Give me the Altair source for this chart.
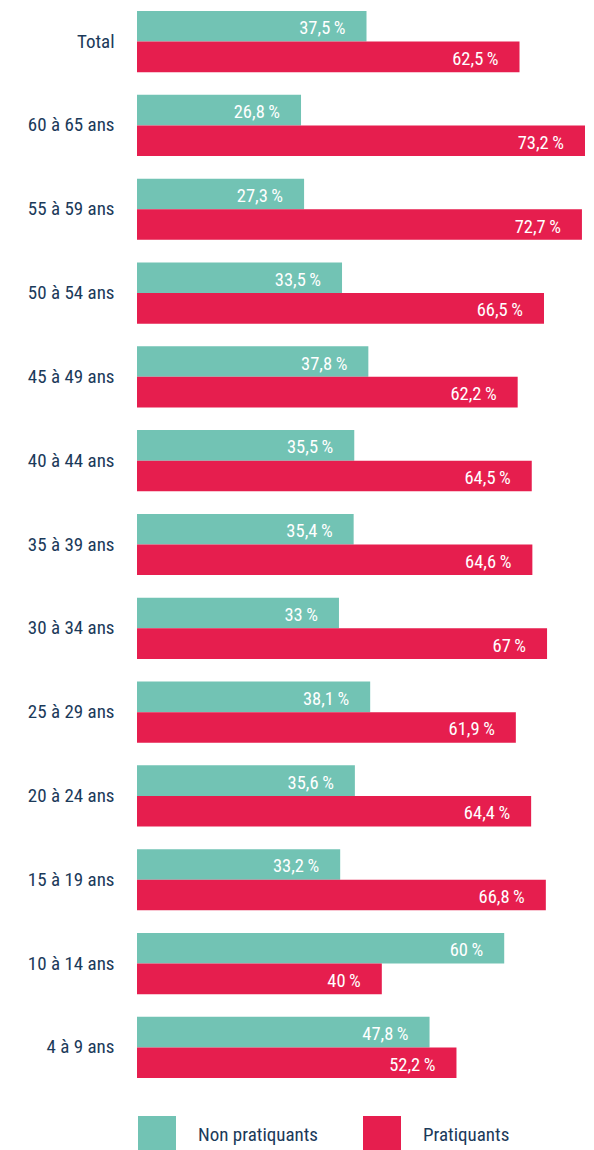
import altair as alt
import pandas as pd

categories = ["Total", "60 à 65 ans", "55 à 59 ans", "50 à 54 ans", "45 à 49 ans",
              "40 à 44 ans", "35 à 39 ans", "30 à 34 ans", "25 à 29 ans",
              "20 à 24 ans", "15 à 19 ans", "10 à 14 ans", "4 à 9 ans"]
non_pratiquants = [37.5, 26.8, 27.3, 33.5, 37.8, 35.5, 35.4, 33, 38.1, 35.6, 33.2, 60, 47.8]
pratiquants = [62.5, 73.2, 72.7, 66.5, 62.2, 64.5, 64.6, 67, 61.9, 64.4, 66.8, 40, 52.2]
series = ["Non pratiquants", "Pratiquants"]
colors = ["#72c3b4", "#e61e4e"]

rows = []
for c, a, b in zip(categories, non_pratiquants, pratiquants):
    for s, v in zip(series, [a, b]):
        lab = (f"{v:g}").replace(".", ",") + "\u2009%"
        rows.append({"cat": c, "serie": s, "val": v, "lab": lab})
df = pd.DataFrame(rows)

FONT = "Roboto Condensed, Liberation Sans Narrow, DejaVu Sans Condensed, Roboto, sans-serif"

base = alt.Chart(df).encode(
    y=alt.Y("cat:N", sort=categories, title=None,
            scale=alt.Scale(paddingInner=0.27, paddingOuter=0.036, round=False),
            axis=alt.Axis(domain=False, ticks=False, labelPadding=23,
                          minExtent=129, maxExtent=129, labelFontSize=19,
                          labelColor="#1b3a5a", labelFont=FONT)),
    yOffset=alt.YOffset("serie:N", sort=series,
                        scale=alt.Scale(paddingInner=0, paddingOuter=0, round=False)),
)

bars = base.mark_bar().encode(
    x=alt.X("val:Q", scale=alt.Scale(domain=[0, 73.2], nice=False), axis=None),
    color=alt.Color("serie:N", sort=series,
                    scale=alt.Scale(domain=series, range=colors),
                    legend=alt.Legend(title=None, orient="none", legendX=1, legendY=1108,
                                      direction="horizontal", symbolType="square",
                                      symbolSize=1444, symbolStrokeWidth=0,
                                      labelFontSize=19, labelColor="#1b3a5a", labelFont=FONT,
                                      labelOffset=22, columnPadding=44, padding=0)),
)

text = base.mark_text(align="right", baseline="middle", dx=-21, dy=2, color="white",
                      fontSize=18.5, font=FONT).encode(
    x=alt.X("val:Q"),
    text="lab:N",
)

chart = (bars + text).properties(
    width=448, height=1073,
    padding={"left": 0, "top": 0, "right": 0, "bottom": 0},
).configure_view(stroke=None)

chart.save("out.html", embed_options={"renderer": "svg", "actions": False})
